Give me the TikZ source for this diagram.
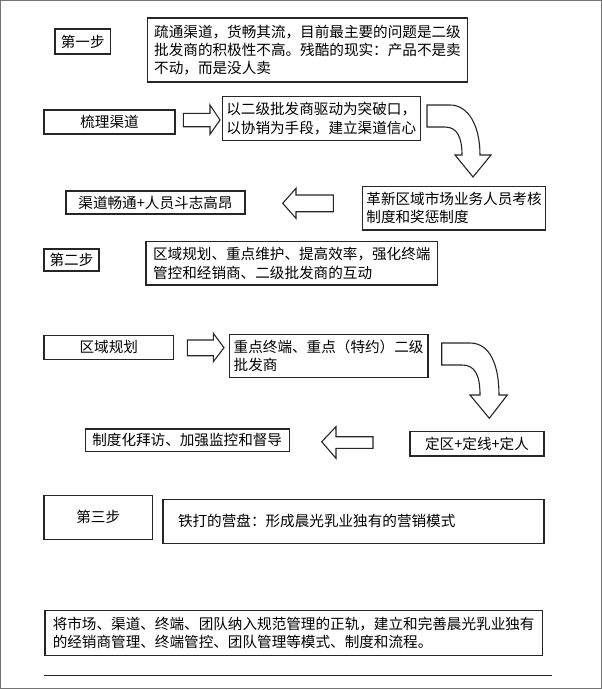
\documentclass[tikz,border=0pt]{standalone}
\usepackage{fontspec}
\setmainfont{Noto Sans CJK SC}
\tikzset{
  box/.style={draw=black!85, line width=1.1pt, inner xsep=4pt, inner ysep=2pt,
    font=\fontsize{14.6}{18.3}\selectfont, align=left},
  cbox/.style={box, align=center},
  blockarrow/.style={draw=black!85, line width=1.1pt, fill=white, line join=miter},
  frame/.style={draw=black!55, line width=1.3pt},
  rule/.style={draw=black!85, line width=1.2pt}
}
\begin{document}
\begin{tikzpicture}[x=1pt,y=-1pt]
\useasboundingbox (0,0) rectangle (602,689);
\draw[frame] (0.8,0.8) rectangle (601.2,688.2);

% step 1
\node[cbox, minimum width=55.5pt, minimum height=25pt] (s1) at (82.75,41.5) {第一步};
\node[box, minimum width=320.2pt, minimum height=64pt] (t1) at (307.5,50)
  {疏通渠道，货畅其流，目前最主要的问题是二级\\批发商的积极性不高。残酷的现实：产品不是卖\\不动，而是没人卖};
\node[cbox, minimum width=131pt, minimum height=24pt] (n1) at (109.5,122) {梳理渠道};
\node[box, minimum width=197pt, minimum height=43.8pt] (n2) at (321.2,118.6)
  {以二级批发商驱动为突破口，\\以协销为手段，建立渠道信心};
\node[box, minimum width=180pt, minimum height=43.5pt] (n3) at (454,208.2)
  {革新区域市场业务人员考核\\制度和奖惩制度};
\node[cbox, minimum width=179pt, minimum height=23pt] (n4) at (155.5,202.5) {渠道畅通+人员斗志高昂};

% arrows step 1
\draw[blockarrow] (183.3,113.3) -- (210,113.3) -- (210,105) -- (220,120) -- (210,134.3)
  -- (210,126.7) -- (183.3,126.7) -- cycle;
\draw[blockarrow] (427,105) -- (450,105) .. controls (468,105) and (480,125) .. (480,155)
  -- (491,155) -- (473,177) -- (455,155) -- (462,155)
  .. controls (462,137) and (457,127) .. (445,127) -- (427,127) -- cycle;
\draw[blockarrow] (333.3,195) -- (296,195) -- (296,188.3) -- (282.7,203.3) -- (296,218.3)
  -- (296,211.7) -- (333.3,211.7) -- cycle;

% step 2
\node[cbox, minimum width=55pt, minimum height=22pt] (s2) at (71.5,260) {第二步};
\node[box, minimum width=291.6pt, minimum height=43.3pt] (t2) at (291.8,263.3)
  {区域规划、重点维护、提高效率，强化终端\\管控和经销商、二级批发商的互动};
\node[cbox, minimum width=129.5pt, minimum height=24.3pt] (n6) at (108.75,347.2) {区域规划};
\node[box, minimum width=198.7pt, minimum height=43.4pt] (n7) at (328.6,356)
  {重点终端、重点（特约）二级\\批发商};
\node[cbox, minimum width=134pt, minimum height=24.3pt] (n8) at (477,443.8) {定区+定线+定人};
\node[cbox, minimum width=204.3pt, minimum height=22.7pt] (n9) at (187.2,440.3) {制度化拜访、加强监控和督导};

% arrows step 2
\draw[blockarrow] (187.3,340) -- (213.3,340) -- (213.3,333.3) -- (224,347.7) -- (213.3,361.7)
  -- (213.3,355.7) -- (187.3,355.7) -- cycle;
\draw[blockarrow] (441.7,343) -- (470,343) .. controls (490,343) and (499,365) .. (499,395)
  -- (507.3,395) -- (489.3,418.3) -- (470,395) -- (480,395)
  .. controls (480,375) and (475,365) .. (462,365) -- (441.7,365) -- cycle;
\draw[blockarrow] (373,436.7) -- (336,436.7) -- (336,426.7) -- (321.7,441.7) -- (336,458.3)
  -- (336,448.3) -- (373,448.3) -- cycle;

% step 3
\node[cbox, minimum width=108.4pt, minimum height=44.3pt] (s3) at (98.2,517.2) {第三步};
\node[box, inner xsep=15pt, text width=351pt, minimum height=44.3pt] (t3) at (353.5,521.2)
  {铁打的营盘：形成晨光乳业独有的营销模式};
\node[box, minimum width=497.4pt, minimum height=44.3pt] (t4) at (293.7,632.9)
  {将市场、渠道、终端、团队纳入规范管理的正轨，建立和完善晨光乳业独有\\的经销商管理、终端管控、团队管理等模式、制度和流程。};

\coordinate (r1) at (44,675.7);
\coordinate (r2) at (551.6,675.7);
\draw[rule] (r1) -- (r2);
\end{tikzpicture}
\end{document}
